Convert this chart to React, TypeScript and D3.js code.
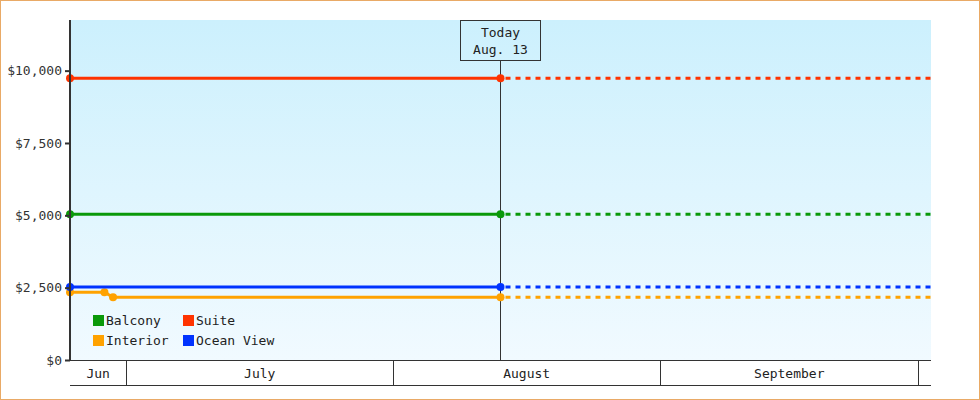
import React, { useEffect, useRef } from 'react';
import * as d3 from 'd3';

const WIDTH = 980;
const HEIGHT = 400;
const MARGIN = { top: 20, right: 49, bottom: 40, left: 70 };

// "Today" marker and the +/- 50 day window around it
const today = new Date(2019, 7, 13, 11);
const windowDays = 50;

const seriesNames = ['Balcony', 'Suite', 'Interior', 'Ocean View'];
const seriesColors = ['#0a990a', '#ff3300', '#ffa200', '#0033ff'];

// price history per cabin type (dates + prices)
const balconyDates = [new Date(2019, 5, 24, 11), today];
const balconyPrices = [5040, 5040];
const suiteDates = [new Date(2019, 5, 24, 11), today];
const suitePrices = [9740, 9740];
const interiorDates = [new Date(2019, 5, 24, 11), new Date(2019, 5, 28, 11), new Date(2019, 5, 29, 11), today];
const interiorPrices = [2340, 2340, 2170, 2170];
const oceanDates = [new Date(2019, 5, 24, 11), today];
const oceanPrices = [2520, 2520];

const yMax = 11750;
const yTickValues = [0, 2500, 5000, 7500, 10000];

const FONT = '"DejaVu Sans Mono", monospace';

interface Pt { date: Date; value: number; }

const App: React.FC = () => {
  const svgRef = useRef<SVGSVGElement>(null);

  useEffect(() => {
    const svg = d3.select(svgRef.current);
    svg.selectAll('*').remove();

    const chartWidth = WIDTH - MARGIN.left - MARGIN.right;
    const chartHeight = HEIGHT - MARGIN.top - MARGIN.bottom;

    const start = d3.timeDay.offset(today, -windowDays);
    const end = d3.timeDay.offset(today, windowDays);

    const xScale = d3.scaleTime().domain([start, end]).range([0, chartWidth]);
    const yScale = d3.scaleLinear().domain([0, yMax]).range([chartHeight, 0]);

    // background gradient
    const defs = svg.append('defs');
    const grad = defs.append('linearGradient')
      .attr('id', 'bg').attr('x1', 0).attr('y1', 0).attr('x2', 0).attr('y2', 1);
    grad.append('stop').attr('offset', '0%').attr('stop-color', '#ccf0fd');
    grad.append('stop').attr('offset', '100%').attr('stop-color', '#f1faff');

    // page border
    svg.append('rect')
      .attr('x', 0.5).attr('y', 0.5)
      .attr('width', WIDTH - 1).attr('height', HEIGHT - 1)
      .attr('fill', 'white').attr('stroke', '#e9aa66');

    const g = svg.append('g').attr('transform', `translate(${MARGIN.left},${MARGIN.top})`);

    g.append('rect')
      .attr('width', chartWidth).attr('height', chartHeight)
      .attr('fill', 'url(#bg)');

    // today marker
    const tx = Math.floor(xScale(today)) + 0.5;
    g.append('line')
      .attr('x1', tx).attr('x2', tx).attr('y1', 40).attr('y2', chartHeight)
      .attr('stroke', '#333').attr('stroke-width', 1);
    g.append('rect')
      .attr('x', tx - 40).attr('y', 0.5).attr('width', 80).attr('height', 40)
      .attr('fill', 'none').attr('stroke', '#333');
    g.append('text').attr('x', tx).attr('y', 17).attr('text-anchor', 'middle')
      .style('font-family', FONT).style('font-size', '13px').attr('fill', '#222').text('Today');
    g.append('text').attr('x', tx).attr('y', 34).attr('text-anchor', 'middle')
      .style('font-family', FONT).style('font-size', '13px').attr('fill', '#222')
      .text(`${d3.timeFormat('%b')(today)}. ${today.getDate()}`);

    const series: Pt[][] = [
      balconyDates.map((d, i) => ({ date: d, value: balconyPrices[i] })),
      suiteDates.map((d, i) => ({ date: d, value: suitePrices[i] })),
      interiorDates.map((d, i) => ({ date: d, value: interiorPrices[i] })),
      oceanDates.map((d, i) => ({ date: d, value: oceanPrices[i] })),
    ];

    const line = d3.line<Pt>().x(d => xScale(d.date)).y(d => yScale(d.value));

    // draw order: interior, ocean view, balcony, suite
    [2, 3, 0, 1].forEach(si => {
      const pts = series[si];
      const color = seriesColors[si];
      const last = pts[pts.length - 1];
      g.append('path')
        .attr('d', line([last, { date: end, value: last.value }]))
        .attr('fill', 'none').attr('stroke', color).attr('stroke-width', 3)
        .attr('stroke-dasharray', '5,5').attr('stroke-dashoffset', -5);
      g.append('path')
        .attr('d', line(pts))
        .attr('fill', 'none').attr('stroke', color).attr('stroke-width', 3);
      g.selectAll(null).data(pts).enter().append('circle')
        .attr('cx', d => xScale(d.date)).attr('cy', d => yScale(d.value))
        .attr('r', 4).attr('fill', color);
    });

    // y axis
    const yAxis = g.append('g')
      .call(d3.axisLeft(yScale).tickValues(yTickValues).tickSize(5).tickPadding(3)
        .tickFormat(d => '$' + d3.format(',')(d as number)));
    yAxis.select('.domain').remove();
    yAxis.selectAll('line').attr('stroke', '#333').attr('stroke-width', 2);
    yAxis.selectAll('text').style('font-family', FONT).style('font-size', '13px').attr('fill', '#333');
    g.append('line').attr('x1', 0).attr('x2', 0).attr('y1', 0).attr('y2', chartHeight + 1)
      .attr('stroke', '#333').attr('stroke-width', 2);

    // month band
    const bandH = 25;
    const ax = g.append('g').attr('transform', `translate(0,${chartHeight})`);
    ax.append('line').attr('x1', 0).attr('x2', chartWidth).attr('y1', 0.5).attr('y2', 0.5)
      .attr('stroke', '#333');
    ax.append('line').attr('x1', 0).attr('x2', chartWidth).attr('y1', bandH + 0.5).attr('y2', bandH + 0.5)
      .attr('stroke', '#333');
    const months = d3.timeMonth.range(d3.timeMonth.floor(start), end);
    months.forEach(m => {
      const next = d3.timeMonth.offset(m, 1);
      const x0 = Math.max(0, xScale(m));
      const x1 = Math.min(chartWidth, xScale(next));
      if (xScale(next) < chartWidth) {
        const bx = Math.floor(xScale(next)) + 0.5;
        ax.append('line').attr('x1', bx).attr('x2', bx).attr('y1', 0).attr('y2', bandH)
          .attr('stroke', '#333');
      }
      if (x1 - x0 > 40) {
        const full = x1 - x0 > 100;
        ax.append('text')
          .attr('x', (x0 + x1) / 2).attr('y', 18).attr('text-anchor', 'middle')
          .style('font-family', FONT).style('font-size', '13px').attr('fill', '#222')
          .text(d3.timeFormat(full ? '%B' : '%b')(m));
      }
    });

    // legend
    const legend = g.selectAll('.legend').data(seriesNames).enter().append('g')
      .attr('class', 'legend')
      .attr('transform', (d, i) => `translate(${23 + (i % 2) * 90},${295 + Math.floor(i / 2) * 20})`);
    legend.append('rect').attr('width', 11).attr('height', 11)
      .attr('fill', (d, i) => seriesColors[i]);
    legend.append('text').attr('x', 13).attr('y', 10)
      .style('font-family', FONT).style('font-size', '13px').attr('fill', '#222')
      .text(d => d);
  }, []);

  return (
    <svg ref={svgRef} width={WIDTH} height={HEIGHT}
      style={{ position: 'absolute', left: 0, top: 0 }} />
  );
};

export default App;
